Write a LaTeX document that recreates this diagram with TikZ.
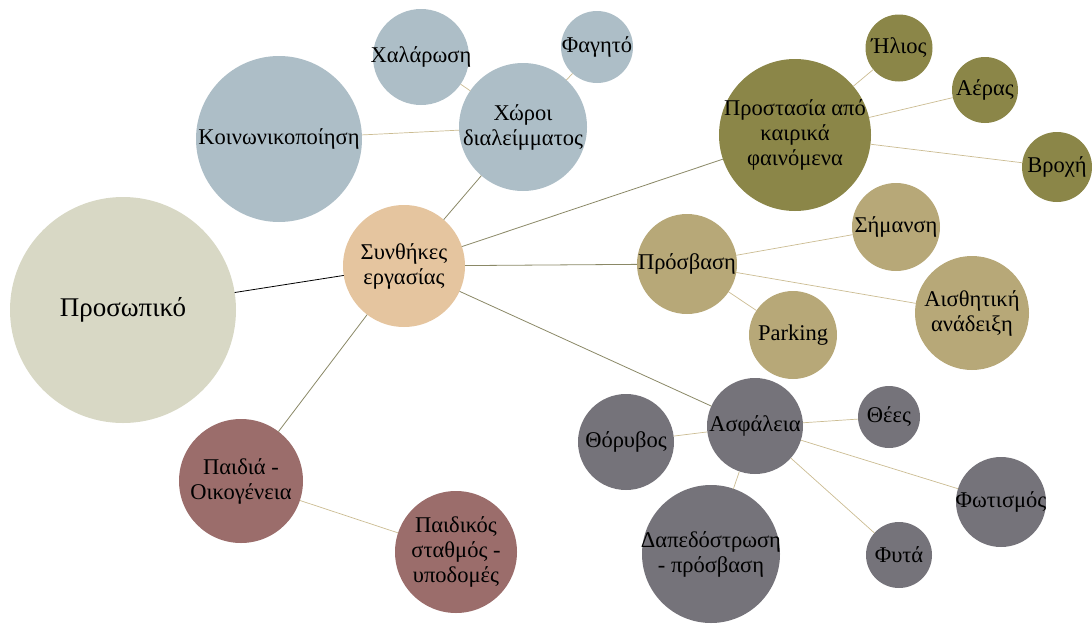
\documentclass[tikz,border=0pt]{standalone}
\usepackage{fontspec}
\setmainfont{Liberation Serif}

\definecolor{cpers}{HTML}{D8D8C5}
\definecolor{csyn}{HTML}{E5C59F}
\definecolor{cblue}{HTML}{ADBEC7}
\definecolor{colive}{HTML}{8B8648}
\definecolor{ctan}{HTML}{B7A878}
\definecolor{cgray}{HTML}{75737A}
\definecolor{cmauve}{HTML}{9B6D6B}
\definecolor{clink}{HTML}{CBBC92}
\definecolor{cdark}{HTML}{8A8866}

\tikzset{
  bubble/.style={circle, inner sep=0pt, outer sep=0pt, draw=none},
  every label/.style={align=center, text=black},
  linksub/.style={draw=clink, line width=0.7pt},
  linkmain/.style={draw=cdark, line width=0.8pt},
}

\begin{document}
\begin{tikzpicture}[x=1pt, y=-1pt, font=\fontsize{22.5}{25}\selectfont]

    \useasboundingbox (0,0) rectangle (1092,624);

    % Centro
    \node[bubble, fill=cpers, minimum size=226pt,
          label={[font=\fontsize{27}{31}\selectfont]center:Προσωπικό}] (pers) at (123,310) {};
    \node[bubble, fill=csyn, minimum size=122pt,
          label={center:Συνθήκες\\εργασίας}] (syn) at (404,266) {};

    % Χώροι διαλείμματος
    \node[bubble, fill=cblue, minimum size=128pt,
          label={center:Χώροι\\διαλείμματος}] (xoroi) at (523,127) {};
    \node[bubble, fill=cblue, minimum size=166pt,
          label={center:Κοινωνικοποίηση}] (koin) at (279,139) {};
    \node[bubble, fill=cblue, minimum size=96pt,
          label={center:Χαλάρωση}] (xal) at (421,57) {};
    \node[bubble, fill=cblue, minimum size=72pt,
          label={center:Φαγητό}] (fag) at (597,47) {};

    % Προστασία
    \node[bubble, fill=colive, minimum size=152pt,
          label={center:Προστασία από\\καιρικά\\φαινόμενα}] (prost) at (795,135) {};
    \node[bubble, fill=colive, minimum size=67pt,
          label={center:Ήλιος}] (ilios) at (899,48) {};
    \node[bubble, fill=colive, minimum size=66pt,
          label={center:Αέρας}] (aeras) at (985,90) {};
    \node[bubble, fill=colive, minimum size=70pt,
          label={center:Βροχή}] (vroxi) at (1057,167) {};

    % Πρόσβαση
    \node[bubble, fill=ctan, minimum size=100pt,
          label={center:Πρόσβαση}] (prosv) at (687,264) {};
    \node[bubble, fill=ctan, minimum size=88pt,
          label={center:Σήμανση}] (siman) at (896,227) {};
    \node[bubble, fill=ctan, minimum size=114pt,
          label={center:Αισθητική\\ανάδειξη}] (aisth) at (972,313) {};
    \node[bubble, fill=ctan, minimum size=88pt,
          label={center:Parking}] (park) at (793,335) {};

    % Ασφάλεια
    \node[bubble, fill=cgray, minimum size=96pt,
          label={center:Ασφάλεια}] (asf) at (755,426) {};
    \node[bubble, fill=cgray, minimum size=96pt,
          label={center:Θόρυβος}] (thor) at (626,442) {};
    \node[bubble, fill=cgray, minimum size=62pt,
          label={center:Θέες}] (thees) at (889,417) {};
    \node[bubble, fill=cgray, minimum size=90pt,
          label={center:Φωτισμός}] (fot) at (1001,502) {};
    \node[bubble, fill=cgray, minimum size=66pt,
          label={center:Φυτά}] (fyta) at (899,555) {};
    \node[bubble, fill=cgray, minimum size=138pt,
          label={center:Δαπεδόστρωση\\- πρόσβαση}] (dap) at (711,554) {};

    % Παιδιά
    \node[bubble, fill=cmauve, minimum size=124pt,
          label={center:Παιδιά -\\Οικογένεια}] (paid) at (241,481) {};
    \node[bubble, fill=cmauve, minimum size=122pt,
          label={center:Παιδικός\\σταθμός -\\υποδομές}] (paidst) at (456,552) {};

    % Συνδέσεις
    \draw[draw=black, line width=0.8pt] (pers) -- (syn);
    \foreach \t in {xoroi, prost, prosv, asf, paid}
        \draw[linkmain] (syn) -- (\t);

    \foreach \a/\b in {xoroi/koin, xoroi/xal, xoroi/fag,
                       prost/ilios, prost/aeras, prost/vroxi,
                       prosv/siman, prosv/aisth, prosv/park,
                       asf/thor, asf/thees, asf/fot, asf/fyta, asf/dap,
                       paid/paidst}
        \draw[linksub] (\a) -- (\b);

\end{tikzpicture}
\end{document}
